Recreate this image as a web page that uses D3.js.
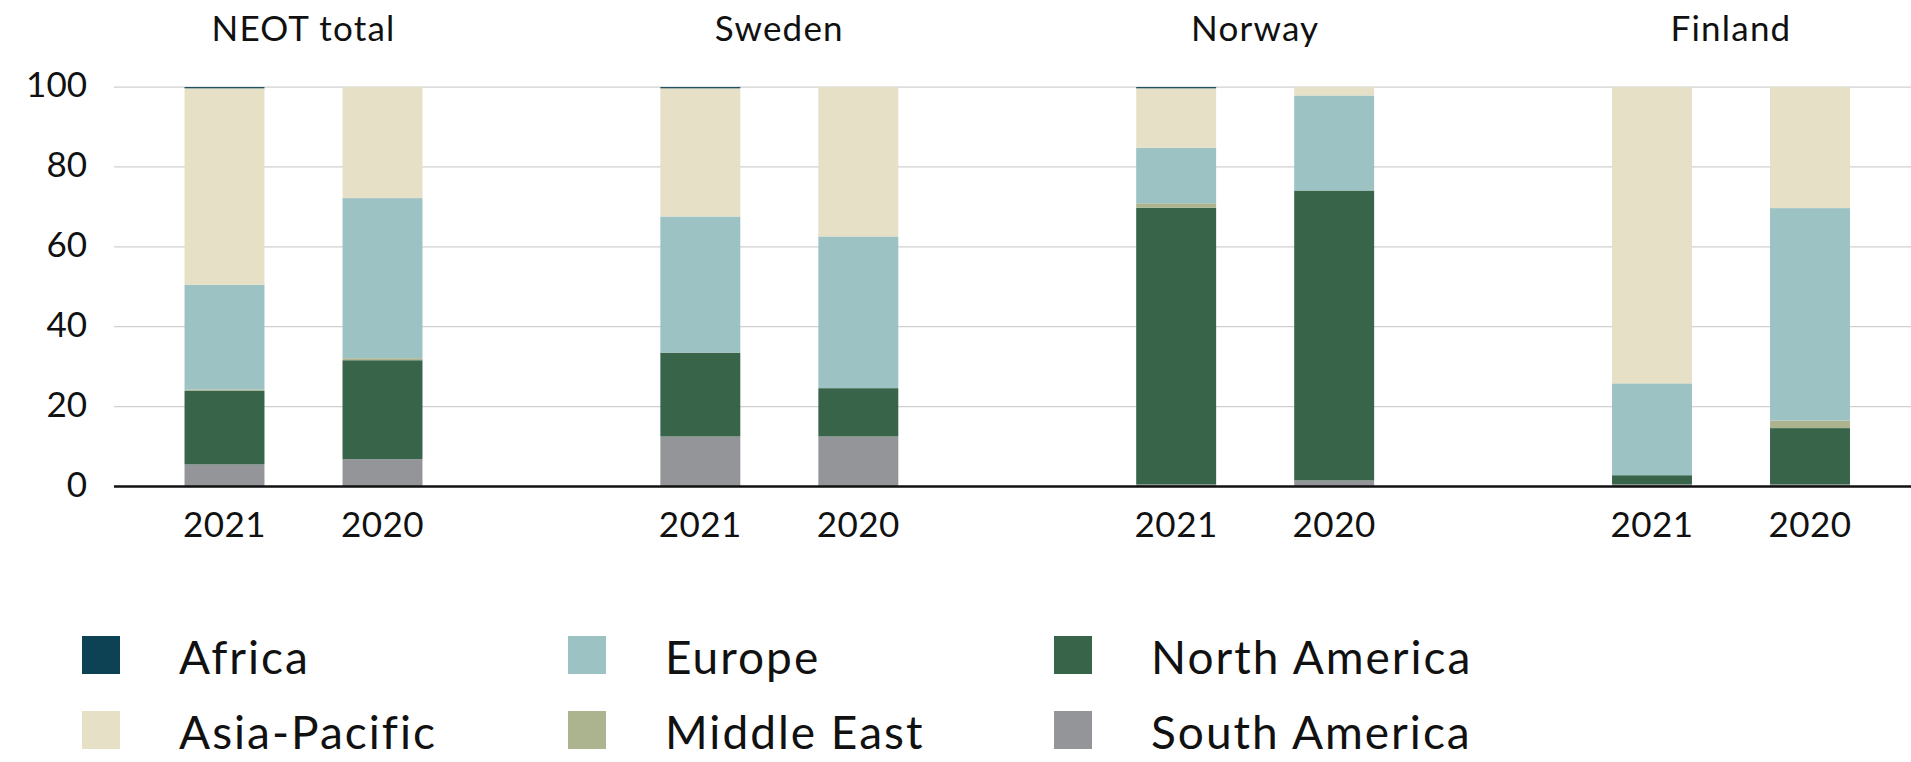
<!DOCTYPE html>
<html>
<head>
<meta charset="utf-8">
<script src="https://cdn.jsdelivr.net/npm/d3@7"></script>
<style>
  body { margin: 0; background: #fff; }
  text { font-family: Lato, "Noto Sans", sans-serif; fill: #111; }
</style>
</head>
<body>
<script>
// groups (panels) and the two years shown in each
var groups = ["NEOT total", "Sweden", "Norway", "Finland"];
var years = ["2021", "2020"];

// regions, legend order
var regions = ["Africa", "Asia-Pacific", "Europe", "Middle East", "North America", "South America"];
var colors = ["#0d4254", "#e5e0c6", "#9dc2c3", "#abb48f", "#386449", "#939598"];

// share in % per bar, order: groups x years
var africa      = [0.3, 0,    0.3, 0,    0.3, 0,    0,    0];
var asiaPacific = [49.2, 27.8, 32.1, 37.4, 14.9, 2.1, 74.2, 30.3];
var europe      = [26.3, 40.1, 34.1, 38.0, 13.9, 23.8, 23.0, 53.2];
var middleEast  = [0.3, 0.5,  0,    0,    1.1,  0,    0,    1.9];
var northAm     = [18.4, 24.8, 21.0, 12.1, 69.3, 72.6, 2.3, 14.1];
var southAm     = [5.5, 6.8,  12.5, 12.5, 0.5,  1.5,  0.5,  0.5];

var yTicks = [0, 20, 40, 60, 80, 100];

var width = 1911, height = 762;

// build rows for the stack
var rows = [];
var k = 0;
groups.forEach(function(g){
    years.forEach(function(y){
        rows.push({
            group: g, year: y,
            "Africa": africa[k], "Asia-Pacific": asiaPacific[k], "Europe": europe[k],
            "Middle East": middleEast[k], "North America": northAm[k], "South America": southAm[k]
        });
        k++;
    });
});

var svg = d3.select('body').append('svg')
    .attr('width', width)
    .attr('height', height);

var x0 = d3.scalePoint().domain(groups).range([303.5, 1731]);
var x1 = d3.scaleBand().domain(years).range([-158, 158]).paddingInner(0.494).paddingOuter(0.247);
var y = d3.scaleLinear().domain([0, 100]).range([486.4, 87.1]);
var color = d3.scaleOrdinal().domain(regions).range(colors);

// gridlines
svg.append('g')
    .selectAll('line')
    .data(yTicks.filter(function(d){ return d > 0; }))
    .enter().append('line')
    .attr('x1', 114).attr('x2', width)
    .attr('y1', function(d){ return y(d); })
    .attr('y2', function(d){ return y(d); })
    .style('stroke', '#d0d0d0')
    .style('stroke-width', 1.3);

// y axis labels
var yAxis = d3.axisLeft(y).tickValues(yTicks).tickSize(0).tickPadding(0);
var ya = svg.append('g').attr('transform', 'translate(87,0)').call(yAxis);
ya.select('.domain').remove();
ya.selectAll('text')
    .style('font-family', 'Lato, sans-serif')
    .style('font-size', '35px')
    .attr('dy', '0.28em');

// stacked bars, bottom-up: South America ... Africa
var stack = d3.stack().keys(regions.slice().reverse());
var series = stack(rows);

svg.append('g')
    .selectAll('g')
    .data(series)
    .enter().append('g')
    .style('fill', function(d){ return color(d.key); })
    .selectAll('rect')
    .data(function(d){ return d; })
    .enter().append('rect')
    .attr('x', function(d){ return x0(d.data.group) + x1(d.data.year); })
    .attr('width', x1.bandwidth())
    .attr('y', function(d){ return y(d[1]); })
    .attr('height', function(d){ return Math.max(0, y(d[0]) - y(d[1])); });

// baseline
svg.append('line')
    .attr('x1', 114).attr('x2', width)
    .attr('y1', y(0)).attr('y2', y(0))
    .style('stroke', '#111')
    .style('stroke-width', 2.5);

// year labels
svg.append('g')
    .selectAll('text')
    .data(rows)
    .enter().append('text')
    .attr('x', function(d){ return x0(d.group) + x1(d.year) + x1.bandwidth()/2; })
    .attr('y', 537)
    .attr('text-anchor', 'middle')
    .style('font-size', '35px')
    .style('letter-spacing', '0.5px')
    .text(function(d){ return d.year; });

// panel titles
svg.append('g')
    .selectAll('text')
    .data(groups)
    .enter().append('text')
    .attr('x', function(d){ return x0(d); })
    .attr('y', 41)
    .attr('text-anchor', 'middle')
    .style('font-size', '35px')
    .style('letter-spacing', '1.2px')
    .text(function(d){ return d; });

// legend, 3 columns x 2 rows, filled by column
var legend = svg.append('g')
    .selectAll('g')
    .data(regions)
    .enter().append('g')
    .attr('transform', function(d, i){
        return 'translate(' + (82 + Math.floor(i/2)*486) + ',' + (636 + (i%2)*75) + ')';
    });
legend.append('rect')
    .attr('width', 38).attr('height', 38)
    .style('fill', function(d){ return color(d); });
legend.append('text')
    .attr('x', 97)
    .attr('y', 38)
    .style('font-size', '46px')
    .style('letter-spacing', '2px')
    .text(function(d){ return d; });
</script>
</body>
</html>
